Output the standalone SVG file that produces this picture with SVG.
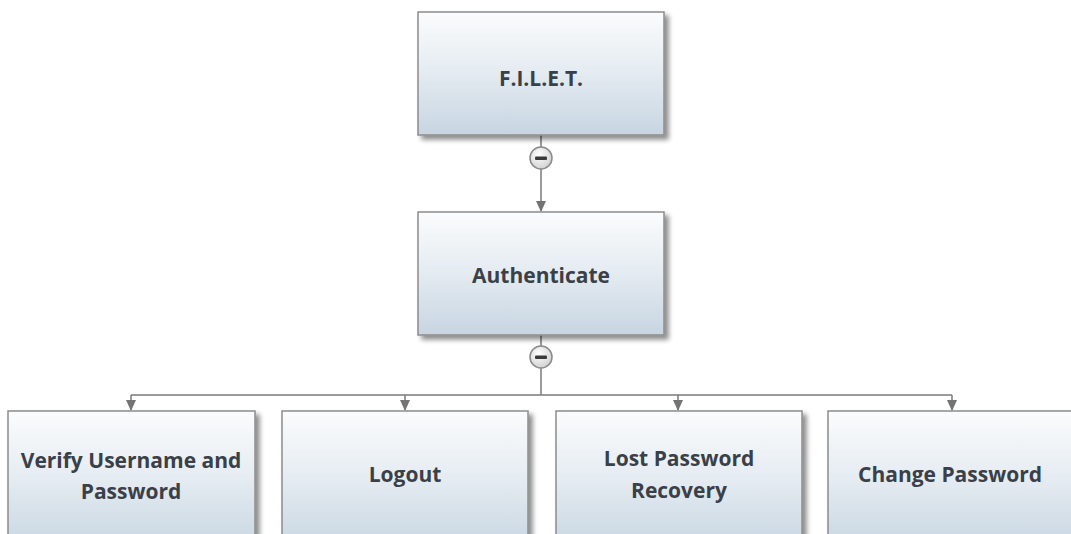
<svg xmlns="http://www.w3.org/2000/svg" width="1071" height="534" viewBox="0 0 1071 534">
  <style>
    .box { fill: url(#boxFill); stroke: #8c8c8c; stroke-width: 1.5; filter: url(#drop); }
    .label { font-family: "Open Sans", "Liberation Sans", sans-serif; font-weight: bold; font-size: 21px; fill: #3a3f48; text-anchor: middle; }
    .wire { stroke: #7a7a7a; stroke-width: 1.5; fill: none; }
    .toggle circle { fill: url(#knobFill); stroke: #8a8a8a; stroke-width: 1.5; }
    .toggle rect { fill: #3a3a3a; }
  </style>
  <defs>
    <linearGradient id="boxFill" x1="0" y1="0" x2="0" y2="1">
      <stop offset="0" stop-color="#fbfcfd"/>
      <stop offset="0.5" stop-color="#e4ebf1"/>
      <stop offset="1" stop-color="#c7d5e1"/>
    </linearGradient>
    <radialGradient id="knobFill" cx="0.4" cy="0.35" r="0.7">
      <stop offset="0" stop-color="#ffffff"/>
      <stop offset="1" stop-color="#cfcfcf"/>
    </radialGradient>
    <filter id="drop" x="-5%" y="-5%" width="115%" height="120%">
      <feGaussianBlur in="SourceAlpha" stdDeviation="2.5"/>
      <feOffset dx="4" dy="4" result="b"/>
      <feComponentTransfer><feFuncA type="linear" slope="0.45"/></feComponentTransfer>
      <feMerge><feMergeNode/><feMergeNode in="SourceGraphic"/></feMerge>
    </filter>
    <marker id="arrow" markerWidth="11" markerHeight="10" refX="10" refY="5" orient="auto" markerUnits="userSpaceOnUse">
      <path d="M0,0 L11,5 L0,10 Z" fill="#737373"/>
    </marker>
  </defs>

  <!-- connectors -->
  <g id="connectors">
    <line class="wire" x1="541" y1="135" x2="541" y2="147"/>
    <line class="wire" x1="541" y1="169" x2="541" y2="211" marker-end="url(#arrow)"/>
    <line class="wire" x1="541" y1="335" x2="541" y2="346"/>
    <line class="wire" x1="541" y1="368" x2="541" y2="395"/>
    <line class="wire" x1="131" y1="395" x2="952" y2="395"/>
    <line class="wire" x1="131" y1="395" x2="131" y2="410" marker-end="url(#arrow)"/>
    <line class="wire" x1="405" y1="395" x2="405" y2="410" marker-end="url(#arrow)"/>
    <line class="wire" x1="678" y1="395" x2="678" y2="410" marker-end="url(#arrow)"/>
    <line class="wire" x1="952" y1="395" x2="952" y2="410" marker-end="url(#arrow)"/>
    <g class="toggle">
      <circle cx="541" cy="158" r="11"/>
      <rect x="535" y="156.5" width="12" height="3.5" rx="1"/>
    </g>
    <g class="toggle">
      <circle cx="541" cy="357" r="11"/>
      <rect x="535" y="355.5" width="12" height="3.5" rx="1"/>
    </g>
  </g>

  <g id="node-filet">
    <rect class="box" x="418" y="12" width="246" height="123"/>
    <text class="label" x="541" y="86">F.I.L.E.T.</text>
  </g>

  <g id="node-authenticate">
    <rect class="box" x="418" y="212" width="246" height="123"/>
    <text class="label" x="541" y="283">Authenticate</text>
  </g>

  <g id="node-verify">
    <rect class="box" x="8" y="411" width="247" height="140"/>
    <text class="label" x="131" y="468">Verify Username and</text>
    <text class="label" x="131" y="499">Password</text>
  </g>

  <g id="node-logout">
    <rect class="box" x="282" y="411" width="246" height="140"/>
    <text class="label" x="405" y="482">Logout</text>
  </g>

  <g id="node-lost">
    <rect class="box" x="556" y="411" width="246" height="140"/>
    <text class="label" x="679" y="466">Lost Password</text>
    <text class="label" x="679" y="498">Recovery</text>
  </g>

  <g id="node-change">
    <rect class="box" x="828" y="411" width="250" height="140"/>
    <text class="label" x="950" y="482">Change Password</text>
  </g>
</svg>
